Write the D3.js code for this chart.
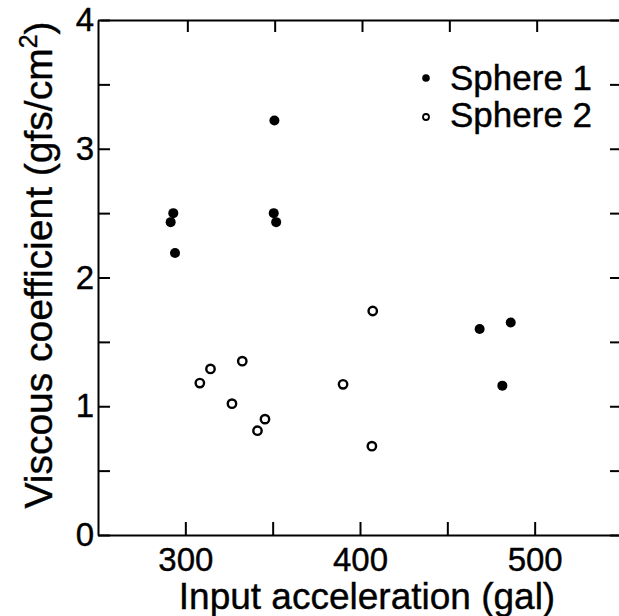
<!DOCTYPE html>
<html>
<head>
<meta charset="utf-8">
<script src="https://cdn.jsdelivr.net/npm/d3@7"></script>
<style>
    body { margin: 0; background: #fff; }
    svg { display: block; font-family: "Liberation Sans", Arial, sans-serif; }
    svg text { stroke: #000; stroke-width: 0.4px; }
    .axis path, .axis line { stroke: #000; stroke-width: 2; }
    .axis text { fill: #000; font-size: 33px; font-family: "Liberation Sans", Arial, sans-serif; }
</style>
</head>
<body>
<svg width="619" height="616"></svg>
<script>
// Sphere 1 (filled dots)
const sphere1X = [293.1, 291.6, 294.1, 351.0, 350.6, 352.0, 468.5, 486.3, 481.5];
const sphere1Y = [2.50, 2.43, 2.19, 3.22, 2.50, 2.43, 1.60, 1.65, 1.16];

// Sphere 2 (open circles)
const sphere2X = [308.3, 314.4, 332.6, 326.7, 390.3, 407.3, 345.6, 341.3, 406.8];
const sphere2Y = [1.18, 1.29, 1.35, 1.02, 1.17, 1.74, 0.90, 0.81, 0.69];

const xTicks = [300, 350, 400, 450, 500];
const xLabels = [300, 400, 500];
const yTicks = [0, 0.5, 1, 1.5, 2, 2.5, 3, 3.5, 4];
const yLabels = [0, 1, 2, 3, 4];
const legendNames = ["Sphere 1", "Sphere 2"];

function toPoints(xs, ys) {
    return xs.map((x, i) => ({ x: x, y: ys[i] }));
}

const svg = d3.select("svg");

const attrArea = { left: 98, right: 622, top: 20, bottom: 535 };

const scaleX = d3.scaleLinear().domain([250, 550]).range([attrArea.left, attrArea.right]);
const scaleY = d3.scaleLinear().domain([0, 4]).range([attrArea.bottom, attrArea.top]);

// bottom axis, ticks pointing inward
svg.append("g")
    .attr("class", "axis")
    .attr("transform", `translate(0, ${attrArea.bottom})`)
    .call(d3.axisBottom(scaleX)
        .tickValues(xTicks)
        .tickSize(-13)
        .tickSizeOuter(0)
        .tickPadding(13)
        .tickFormat((d) => (xLabels.includes(d) ? d : "")));

// top axis
svg.append("g")
    .attr("class", "axis")
    .attr("transform", `translate(2, ${attrArea.top})`)
    .call(d3.axisTop(scaleX)
        .tickValues(xTicks)
        .tickSize(-12)
        .tickSizeOuter(0)
        .tickFormat(""));

// left axis
svg.append("g")
    .attr("class", "axis")
    .attr("transform", `translate(${attrArea.left}, 0)`)
    .call(d3.axisLeft(scaleY)
        .tickValues(yTicks)
        .tickSize(-12)
        .tickSizeOuter(0)
        .tickPadding(4)
        .tickFormat((d) => (yLabels.includes(d) ? d : "")));

// right axis (frame edge sits just past the picture)
svg.append("g")
    .attr("class", "axis")
    .attr("transform", `translate(${attrArea.right}, 0)`)
    .call(d3.axisRight(scaleY)
        .tickValues(yTicks)
        .tickSize(-12)
        .tickSizeOuter(0)
        .tickFormat(""));

// points
svg.append("g")
    .selectAll("circle")
    .data(toPoints(sphere2X, sphere2Y))
    .enter()
    .append("circle")
    .attr("cx", (d) => scaleX(d.x))
    .attr("cy", (d) => scaleY(d.y))
    .attr("r", 4.2)
    .style("fill", "#fff")
    .style("stroke", "#000")
    .style("stroke-width", 2.4);

svg.append("g")
    .selectAll("circle")
    .data(toPoints(sphere1X, sphere1Y))
    .enter()
    .append("circle")
    .attr("cx", (d) => scaleX(d.x))
    .attr("cy", (d) => scaleY(d.y))
    .attr("r", 5)
    .style("fill", "#000");

// legend
const legend = svg.append("g").attr("transform", "translate(426, 78)");
legend.append("circle").attr("cx", 0).attr("cy", 0).attr("r", 3.8).style("fill", "#000");
legend.append("circle").attr("cx", 0).attr("cy", 39).attr("r", 3)
    .style("fill", "#fff").style("stroke", "#000").style("stroke-width", 1.8);
legend.selectAll("text")
    .data(legendNames)
    .enter()
    .append("text")
    .attr("x", 24)
    .attr("y", (d, i) => 12 + i * 37)
    .style("font-size", "35px")
    .text((d) => d);

// axis titles
svg.append("text")
    .attr("x", 367)
    .attr("y", 609)
    .attr("text-anchor", "middle")
    .style("font-size", "37px")
    .text("Input acceleration (gal)");

const yTitle = svg.append("text")
    .attr("transform", "translate(52, 265) rotate(-90)")
    .attr("text-anchor", "middle")
    .style("font-size", "39px");
yTitle.append("tspan").text("Viscous coefficient (gfs/cm");
yTitle.append("tspan").attr("dy", -15).style("font-size", "25px").text("2");
yTitle.append("tspan").attr("dy", 15).text(")");
</script>
</body>
</html>
